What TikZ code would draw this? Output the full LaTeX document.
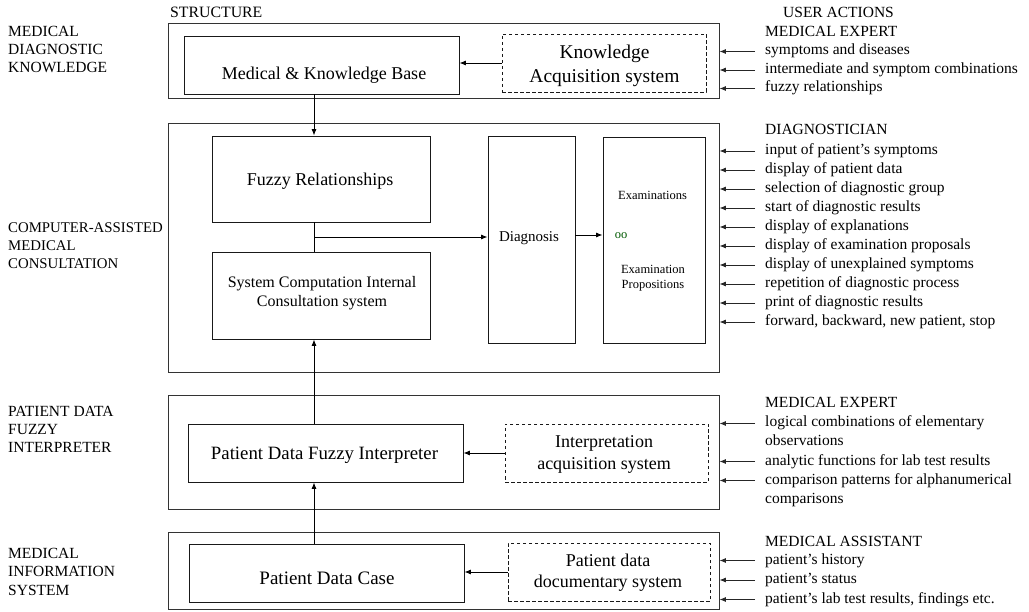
\documentclass[tikz,border=0pt]{standalone}
\usepackage{fontspec}
\setmainfont{Liberation Serif}
\usepackage{tikz}
\usetikzlibrary{arrows,arrows.meta,positioning,calc}

\begin{document}
\begin{tikzpicture}[x=1pt, y=-1pt, >={Latex[length=6.5pt,width=5pt]},
    layer/.style={rectangle, draw=black!80, line width=0.9pt, inner sep=0pt},
    block/.style={rectangle, draw=black!90, line width=0.8pt, inner sep=0pt},
    acq/.style={rectangle, draw=black!90, line width=0.8pt, dash pattern=on 3.5pt off 2.5pt, inner sep=0pt},
    lvl/.style={anchor=base west, align=left, inner sep=0pt, font=\fontsize{15.5}{18.3}\selectfont},
    act/.style={anchor=base west, inner sep=0pt, font=\fontsize{15.5}{19}\selectfont},
    txt/.style={anchor=base, align=center, inner sep=0pt},
    flow/.style={->, line width=0.9pt},
    usr/.style={->, line width=0.8pt, black!85},
]
\useasboundingbox (0,0) rectangle (1029,612);
\coordinate (spine) at (314,0);

% Layers
\node[layer, minimum width=551, minimum height=75] (kbox) at (443.5,60.5) {};
\node[layer, minimum width=551, minimum height=249] (cbox) at (443.5,247.5) {};
\node[layer, minimum width=551, minimum height=114] (ibox) at (443.5,452) {};
\node[layer, minimum width=551, minimum height=77] (sbox) at (443.5,570.5) {};

% Left captions (base = last line)
\node[lvl] (lab1) at (8,73) {MEDICAL\\DIAGNOSTIC\\KNOWLEDGE};
\node[lvl, font=\fontsize{14.8}{18.3}\selectfont] (lab2) at (8,269) {COMPUTER-ASSISTED\\MEDICAL\\CONSULTATION};
\node[lvl] (lab3) at (8,453) {PATIENT DATA\\FUZZY\\INTERPRETER};
\node[lvl] (lab4) at (8,595) {MEDICAL\\INFORMATION\\SYSTEM};
\node[lvl, font=\fontsize{15.8}{19}\selectfont] (struct) at (170,18) {STRUCTURE};
\node[act] (useract) at (783,18) {USER ACTIONS};

% Knowledge layer
\node[block, minimum width=275, minimum height=58] (mkb) at (321.5,65) {};
\node[acq, minimum width=204, minimum height=58] (ka) at (604,63) {};
\node[txt, font=\fontsize{18}{22}\selectfont] (mkbt) at (324,80) {Medical \& Knowledge Base};
\node[txt, font=\fontsize{19.5}{24}\selectfont] (kat) at (604.5,83) {Knowledge\\Acquisition system};

% Consultation layer
\node[block, minimum width=218, minimum height=86] (fr) at (321,179) {};
\node[block, minimum width=218, minimum height=87] (sc) at (321,295.5) {};
\node[block, minimum width=87, minimum height=207] (diag) at (531.5,239.5) {};
\node[block, minimum width=102, minimum height=206] (exam) at (654,240) {};
\node[txt, font=\fontsize{18}{22}\selectfont] (frt) at (320,186) {Fuzzy Relationships};
\node[txt, font=\fontsize{16}{19}\selectfont] (sct) at (322,307) {System Computation Internal\\Consultation system};
\node[txt, font=\fontsize{15}{18}\selectfont] (diagt) at (529,242) {Diagnosis};
\node[txt, font=\fontsize{12.5}{15}\selectfont] (ext) at (652.5,200) {Examinations};
\node[txt, font=\fontsize{12.5}{15}\selectfont, green!35!black] (oo) at (621,239) {oo};
\node[txt, font=\fontsize{12.5}{15}\selectfont] (propt) at (653,289) {Examination\\Propositions};

% Interpreter layer
\node[block, minimum width=275, minimum height=58] (pdfi) at (325.5,453) {};
\node[acq, minimum width=203, minimum height=58] (ia) at (606.5,453) {};
\node[txt, font=\fontsize{18.8}{22}\selectfont] (pdfit) at (324.5,460) {Patient Data Fuzzy Interpreter};
\node[txt, font=\fontsize{18}{21}\selectfont] (iat) at (604,469) {Interpretation\\acquisition system};

% Information layer
\node[block, minimum width=275, minimum height=58] (pdc) at (326.5,573) {};
\node[acq, minimum width=202, minimum height=58] (pd) at (609,572) {};
\node[txt, font=\fontsize{19}{22}\selectfont] (pdct) at (327,584) {Patient Data Case};
\node[txt, font=\fontsize{18}{21}\selectfont] (pdt) at (608,587) {Patient data\\documentary system};

% Flow
\coordinate (junc) at (314,237);
\draw[flow] (spine |- mkb.south) -- (spine |- fr.north);
\draw[line width=0.9pt] (spine |- fr.south) -- (spine |- sc.north);
\draw[flow] (junc) -- (junc -| diag.west);
\draw[flow] ([yshift=2pt]junc -| diag.east) -- ([yshift=2pt]junc -| exam.west);
\draw[flow] (spine |- pdfi.north) -- (spine |- sc.south);
\draw[flow] (spine |- pdc.north) -- (spine |- pdfi.south);
\draw[flow] (ka.west) -- (ka.west -| mkb.east);
\draw[flow] (ia.west) -- (ia.west -| pdfi.east);
\draw[flow] (pd.west) -- (pd.west -| pdc.east);

% User actions: medical expert
\node[act] (mexp) at (765,37) {MEDICAL EXPERT};
\foreach \a [count=\i] in {symptoms and diseases, intermediate and symptom combinations, fuzzy relationships} {
    \pgfmathsetmacro{\y}{55 + (\i-1)*18.5}
    \node[act] (me\i) at (765,\y) {\a};
    \coordinate (p\i) at ([yshift=3.5pt]me\i.base west);
    \draw[usr] ([xshift=-10pt]p\i) -- (p\i -| kbox.east);
}

% User actions: diagnostician
\node[act] (diagn) at (765,135) {DIAGNOSTICIAN};
\foreach \a [count=\i] in {input of patient’s symptoms, display of patient data, selection of diagnostic group, start of diagnostic results, display of explanations, display of examination proposals, display of unexplained symptoms, repetition of diagnostic process, print of diagnostic results, {forward, backward, new patient, stop}} {
    \pgfmathsetmacro{\y}{154.5 + (\i-1)*19}
    \node[act] (dg\i) at (765,\y) {\a};
    \coordinate (q\i) at ([yshift=3.5pt]dg\i.base west);
    \draw[usr] ([xshift=-10pt]q\i) -- (q\i -| cbox.east);
}

% User actions: interpreter expert
\node[act] (iexp) at (765,408) {MEDICAL EXPERT};
\node[act] (ie1) at (765,427) {logical combinations of elementary};
\node[act] (ie2) at (765,446) {observations};
\node[act] (ie3) at (765,465) {analytic functions for lab test results};
\node[act] (ie4) at (765,484) {comparison patterns for alphanumerical};
\node[act] (ie5) at (765,503) {comparisons};
\foreach \n in {ie1,ie3,ie4} {
    \coordinate (r) at ([yshift=3.5pt]\n.base west);
    \draw[usr] ([xshift=-10pt]r) -- (r -| ibox.east);
}

% User actions: medical assistant
\node[act] (masst) at (765,546) {MEDICAL ASSISTANT};
\foreach \a [count=\i] in {patient’s history, patient’s status, {patient’s lab test results, findings etc.}} {
    \pgfmathsetmacro{\y}{564 + (\i-1)*19.5}
    \node[act] (ma\i) at (765,\y) {\a};
    \coordinate (s\i) at ([yshift=3.5pt]ma\i.base west);
    \draw[usr] ([xshift=-10pt]s\i) -- (s\i -| sbox.east);
}

\end{tikzpicture}
\end{document}
